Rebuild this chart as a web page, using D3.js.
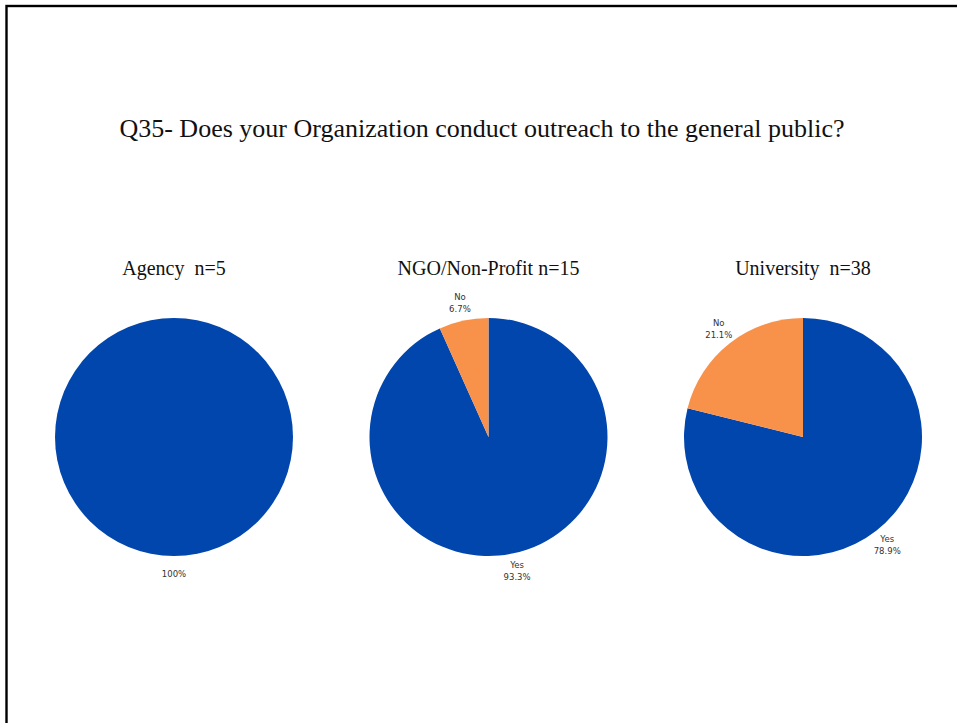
<!DOCTYPE html>
<html>
<head>
<meta charset="utf-8">
<script src="https://cdn.jsdelivr.net/npm/d3@7"></script>
<style>
  html, body { margin: 0; padding: 0; background: #fff; }
  svg { display: block; }
</style>
</head>
<body>
<svg id="chart" width="957" height="723"></svg>
<script>
// Survey responses by organization type
const groups = ["Agency", "NGO/Non-Profit", "University"];
const groupTitles = ["Agency  n=5", "NGO/Non-Profit n=15", "University  n=38"];
const answers = ["Yes", "No"];
const yesPct = [100, 93.3, 78.9];
const noPct = [0, 6.7, 21.1];
const colors = ["#0046AD", "#F8914A"];
const title = "Q35- Does your Organization conduct outreach to the general public?";

const W = 957, H = 723;
const svg = d3.select("#chart");

// Frame
svg.append("rect")
  .attr("x", 6.5).attr("y", 6)
  .attr("width", W + 20).attr("height", H + 20)
  .attr("fill", "none").attr("stroke", "#000").attr("stroke-width", 2.4);

// Title
svg.append("text")
  .attr("x", 482).attr("y", 137)
  .attr("text-anchor", "middle")
  .attr("font-family", "'Liberation Serif', 'Times New Roman', serif")
  .attr("font-size", 26)
  .attr("fill", "#111")
  .text(title);

const xPos = d3.scalePoint().domain(groups).range([174, 803]);
const cy = 437;
const radius = 119;
const color = d3.scaleOrdinal().domain(answers).range(colors);

const pie = d3.pie().sort(null).value(d => d.value);
const arc = d3.arc().innerRadius(0).outerRadius(radius);
const labelArc = d3.arc().innerRadius(radius * 1.15).outerRadius(radius * 1.15);

groups.forEach((g, i) => {
  const data = [
    { key: "Yes", value: yesPct[i] },
    { key: "No", value: noPct[i] }
  ].filter(d => d.value > 0);

  const cx = xPos(g);

  svg.append("text")
    .attr("x", cx).attr("y", 275)
    .attr("text-anchor", "middle")
    .attr("font-family", "'Liberation Serif', 'Times New Roman', serif")
    .attr("font-size", 20)
    .attr("fill", "#111")
    .style("white-space", "pre")
    .text(groupTitles[i]);

  const gp = svg.append("g").attr("transform", `translate(${cx},${cy})`);
  const arcs = pie(data);

  gp.selectAll("path").data(arcs).join("path")
    .attr("d", arc)
    .attr("fill", d => color(d.data.key));

  const single = arcs.length === 1;
  arcs.forEach(a => {
    const [lx, ly] = labelArc.centroid(a);
    const lines = single
      ? [d3.format(".0f")(a.data.value) + "%"]
      : [a.data.key, d3.format(".1f")(a.data.value) + "%"];
    const lh = 12;
    const t = gp.append("text")
      .attr("text-anchor", "middle")
      .attr("font-family", "'DejaVu Sans', sans-serif")
      .attr("font-size", 8.5)
      .attr("fill", "#333");
    lines.forEach((s, k) => {
      t.append("tspan")
        .attr("x", lx)
        .attr("y", ly + (k - (lines.length - 1) / 2) * lh)
        .attr("dy", "0.35em")
        .text(s);
    });
  });
});
</script>
</body>
</html>
